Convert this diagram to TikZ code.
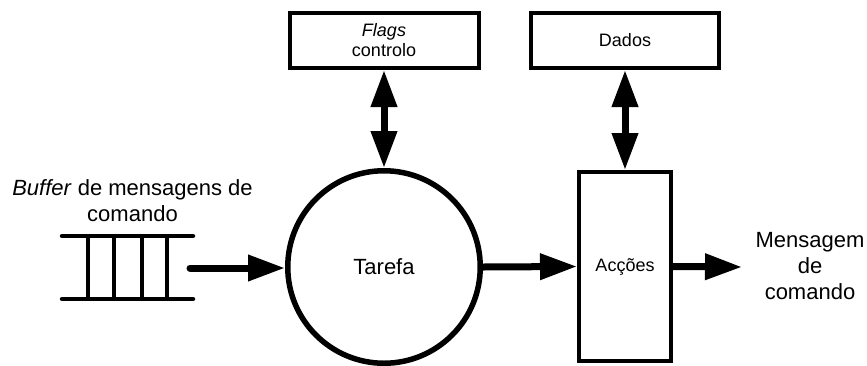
\documentclass[tikz,border=0pt]{standalone}
\usepackage{fontspec}
\setmainfont{Liberation Sans}
\usetikzlibrary{arrows.meta}
\begin{document}
\begin{tikzpicture}[x=1pt,y=-1pt,
  bigtext/.style={font=\fontsize{22}{26}\selectfont, align=center, inner sep=0pt},
  smalltext/.style={font=\fontsize{18}{20}\selectfont, align=center},
  storebox/.style={draw, line width=4pt, rectangle, minimum width=189pt, minimum height=55pt, smalltext},
  flow/.style={line width=7pt, -{Triangle[length=37pt,width=25pt]}},
  dualflow/.style={line width=7pt, {Triangle[length=37pt,width=25pt]}-{Triangle[length=37pt,width=25pt]}},
  queue/.style={line width=4.5pt, line cap=round}]
  \useasboundingbox (0,0) rectangle (867,365);

  % data stores and processing elements
  \node[storebox] (flags) at (384,40.5) {\textit{Flags}\\controlo};
  \node[storebox, minimum width=188pt] (dados) at (625,40.5) {Dados};
  \node[draw, circle, line width=5.5pt, minimum size=192.5pt, bigtext] (tarefa) at (384,267) {Tarefa};
  \node[draw, rectangle, line width=4pt, minimum width=92pt, minimum height=189pt, smalltext] (acoes) at (625,266.5) {Acções};

  % command message queue
  \draw[queue] (62,236) -- (193,236);
  \draw[queue] (62,299) -- (193,299);
  \foreach \qx in {88,114,142,167}
    \draw[line width=4pt] (\qx,236) -- (\qx,299);
  \node[bigtext] (bufferlbl) at (132.5,200.5) {\textit{Buffer} de mensagens de\\comando};

  % outgoing message label
  \node[bigtext] (msglbl) at (810,266) {Mensagem\\de\\comando};

  % connectors
  \coordinate (qout) at (190,268);
  \coordinate (msgin) at (742,267);
  \draw[flow, line cap=round] (qout) -- (tarefa.west |- qout);
  \draw[flow] (tarefa.east) -- (acoes.west);
  \draw[flow] (acoes.east) -- (msgin);
  \draw[dualflow] (flags.south) -- (tarefa.north);
  \draw[dualflow] (dados.south) -- (acoes.north);
\end{tikzpicture}
\end{document}
